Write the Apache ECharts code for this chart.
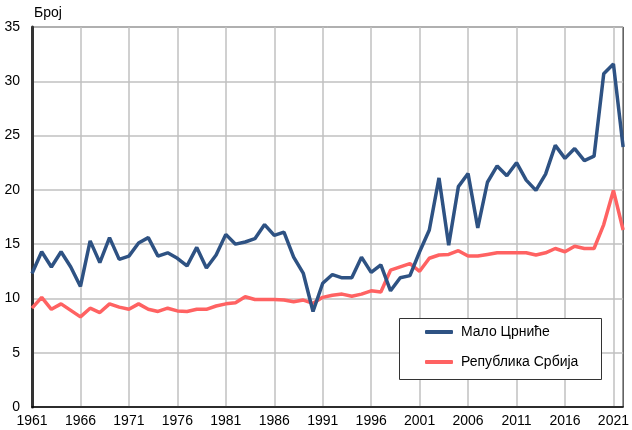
<!DOCTYPE html>
<html>
<head>
<meta charset="utf-8">
<script src="https://cdn.jsdelivr.net/npm/echarts@6/dist/echarts.min.js"></script>
<style>html,body{margin:0;padding:0;background:#fff;}#c{width:632px;height:430px;}</style>
</head>
<body>
<div id="c"></div>
<script>
const years = [];
for (let y = 1961; y <= 2022; y++) years.push(String(y));

const seriesNames = ['Мало Црниће', 'Република Србија'];

const maloCrnice = [
  12.3, 14.3, 12.9, 14.3, 12.9, 11.1, 15.3, 13.3, 15.6, 13.6,
  13.9, 15.1, 15.6, 13.9, 14.2, 13.7, 13.0, 14.7, 12.8, 14.0,
  15.9, 15.0, 15.2, 15.5, 16.8, 15.8, 16.1, 13.8, 12.3, 8.8,
  11.4, 12.2, 11.9, 11.9, 13.8, 12.4, 13.1, 10.7, 11.9, 12.1,
  14.3, 16.3, 21.1, 14.9, 20.3, 21.5, 16.5, 20.7, 22.2, 21.3,
  22.5, 20.9, 19.95, 21.45, 24.1, 22.9, 23.8, 22.7, 23.1, 30.7,
  31.6, 23.95
];

const srbija = [
  9.1, 10.1, 9.0, 9.5, 8.9, 8.3, 9.1, 8.7, 9.5, 9.2,
  9.0, 9.5, 9.0, 8.8, 9.1, 8.85, 8.8, 9.0, 9.0, 9.3,
  9.5, 9.6, 10.15, 9.9, 9.9, 9.9, 9.85, 9.7, 9.85, 9.55,
  10.1, 10.3, 10.4, 10.2, 10.4, 10.7, 10.6, 12.6, 12.9, 13.2,
  12.5, 13.7, 14.0, 14.05, 14.4, 13.9, 13.9, 14.05, 14.2, 14.2,
  14.2, 14.2, 14.0, 14.2, 14.6, 14.3, 14.8, 14.6, 14.6, 16.8,
  19.95, 16.3
];

const yTicks = [0, 5, 10, 15, 20, 25, 30, 35];
const yLabel = 'Број';

const chart = echarts.init(document.getElementById('c'), null, {renderer: 'canvas'});
const font = 'Liberation Sans, Arial, sans-serif';
chart.setOption({
  animation: false,
  backgroundColor: '#fff',
  textStyle: {fontFamily: font},
  grid: {left: 32, right: 4, top: 27, bottom: 23, show: true, borderColor: '#000', borderWidth: 1},
  graphic: [
    {type: 'text', left: 34, top: 6, z: 10,
     style: {text: yLabel, fontSize: 14, fontFamily: font, fill: '#000'}},
    {type: 'rect', z: 5, shape: {x: 399.5, y: 318.5, width: 202, height: 61},
     style: {fill: '#fff', stroke: '#333', lineWidth: 1}}
  ],
  legend: {
    show: true,
    left: 425, top: 325,
    orient: 'vertical',
    itemGap: 16,
    itemWidth: 28, itemHeight: 4,
    padding: 0,
    z: 10,
    textStyle: {fontSize: 14, color: '#000', fontFamily: font, padding: [0, 0, 0, 3]},
    icon: 'roundRect',
    data: seriesNames
  },
  xAxis: {
    type: 'category',
    data: years,
    boundaryGap: false,
    axisLine: {show: true, lineStyle: {color: '#000', width: 1.5}},
    axisTick: {show: false},
    axisLabel: {interval: 4, fontSize: 14, color: '#000', margin: 7, fontFamily: font},
    splitLine: {show: true, interval: 4, lineStyle: {color: '#c0c0c0', width: 1.5}}
  },
  yAxis: {
    type: 'value',
    min: yTicks[0], max: yTicks[yTicks.length - 1], interval: 5,
    axisLine: {show: true, lineStyle: {color: '#333', width: 3}},
    axisTick: {show: false},
    axisLabel: {fontSize: 14, color: '#000', margin: 12, fontFamily: font},
    splitLine: {show: true, lineStyle: {color: '#c0c0c0', width: 1.5}}
  },
  series: [
    {name: seriesNames[0], type: 'line', data: maloCrnice, showSymbol: false, symbol: 'none',
     lineStyle: {color: '#2E5283', width: 3.5}, itemStyle: {color: '#2E5283'}, z: 3},
    {name: seriesNames[1], type: 'line', data: srbija, showSymbol: false, symbol: 'none',
     lineStyle: {color: '#FF6262', width: 3.5}, itemStyle: {color: '#FF6262'}, z: 2}
  ]
});
</script>
</body>
</html>
